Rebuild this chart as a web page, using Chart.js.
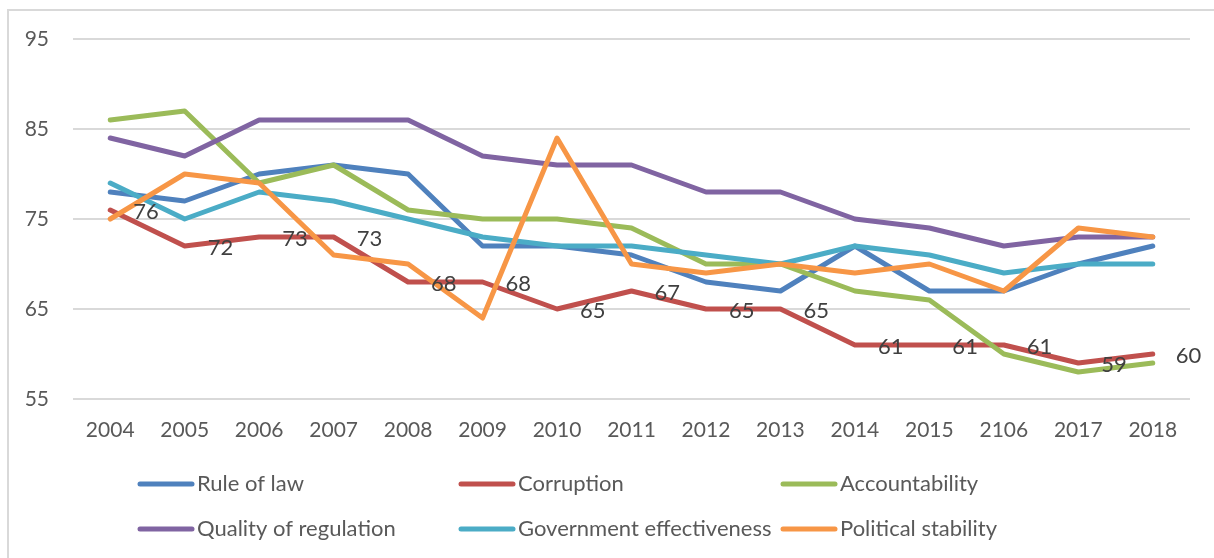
<!DOCTYPE html>
<html>
<head>
<meta charset="utf-8">
<script src="https://cdn.jsdelivr.net/npm/chart.js@4.4.1/dist/chart.umd.min.js"></script>
<style>
  html, body { margin: 0; padding: 0; width: 1214px; height: 558px; overflow: hidden; background: #fff; }
  #frame { position: absolute; left: 7px; top: 9px; width: 1300px; height: 700px; border: 2px solid #d9d9d9; }
  #wrap { position: absolute; left: 0; top: 0; width: 1214px; height: 558px; }
</style>
</head>
<body>
<div id="frame"></div>
<div id="wrap"><canvas id="govChart" width="1214" height="558"></canvas></div>
<script>
// data
const years = ['2004', '2005', '2006', '2007', '2008', '2009', '2010', '2011', '2012', '2013', '2014', '2015', '2106', '2017', '2018'];
const ruleOfLaw = [78, 77, 80, 81, 80, 72, 72, 71, 68, 67, 72, 67, 67, 70, 72];
const corruption = [76, 72, 73, 73, 68, 68, 65, 67, 65, 65, 61, 61, 61, 59, 60];
const accountability = [86, 87, 79, 81, 76, 75, 75, 74, 70, 70, 67, 66, 60, 58, 59];
const qualityOfRegulation = [84, 82, 86, 86, 86, 82, 81, 81, 78, 78, 75, 74, 72, 73, 73];
const govEffectiveness = [79, 75, 78, 77, 75, 73, 72, 72, 71, 70, 72, 71, 69, 70, 70];
const politicalStability = [75, 80, 79, 71, 70, 64, 84, 70, 69, 70, 69, 70, 67, 74, 73];
const yTicks = [55, 65, 75, 85, 95];

const seriesNames = ['Rule of law', 'Corruption', 'Accountability', 'Quality of regulation', 'Government effectiveness', 'Political stability'];
const seriesData = [ruleOfLaw, corruption, accountability, qualityOfRegulation, govEffectiveness, politicalStability];
const seriesColors = ['#4f81bd', '#c0504d', '#9bbb59', '#8064a2', '#4bacc6', '#f79646'];

const FONT = 'Lato, "Open Sans", sans-serif';

// labels only on the Corruption line, placed right of each point
const corruptionLabels = {
    id: 'corruptionLabels',
    afterDatasetsDraw(chart) {
        const meta = chart.getDatasetMeta(1);
        const ctx = chart.ctx;
        ctx.save();
        ctx.font = '22px ' + FONT;
        ctx.fillStyle = '#404040';
        ctx.textAlign = 'left';
        ctx.textBaseline = 'middle';
        meta.data.forEach((pt, i) => {
            ctx.fillText(String(corruption[i]), pt.x + 23, pt.y + 2);
        });
        ctx.restore();
    }
};

// legend in three fixed columns, like the office chart
const gridLegend = {
    id: 'gridLegend',
    afterDraw(chart) {
        const ctx = chart.ctx;
        const colX = [138, 459, 781];
        const rowY = [484, 529];
        ctx.save();
        ctx.font = '22px ' + FONT;
        ctx.textAlign = 'left';
        ctx.textBaseline = 'middle';
        seriesNames.forEach((name, i) => {
            const x = colX[i % 3];
            const y = rowY[Math.floor(i / 3)];
            ctx.strokeStyle = seriesColors[i];
            ctx.lineWidth = 5;
            ctx.lineCap = 'round';
            ctx.beginPath();
            ctx.moveTo(x + 2, y);
            ctx.lineTo(x + 54, y);
            ctx.stroke();
            ctx.fillStyle = '#595959';
            ctx.fillText(name, x + 59, y);
        });
        ctx.restore();
    }
};

const ctx = document.getElementById('govChart').getContext('2d');
new Chart(ctx, {
    type: 'line',
    data: {
        labels: years,
        datasets: seriesNames.map((name, i) => ({
            label: name,
            data: seriesData[i],
            borderColor: seriesColors[i],
            backgroundColor: seriesColors[i],
            borderWidth: 5,
            pointRadius: 0,
            tension: 0,
            borderJoinStyle: 'round',
            borderCapStyle: 'round',
            order: seriesNames.length - i // later series on top
        }))
    },
    options: {
        responsive: false,
        animation: false,
        layout: {
            padding: { left: 0, top: 39, right: 24, bottom: 100 }
        },
        plugins: {
            legend: { display: false },
            tooltip: { enabled: false }
        },
        scales: {
            x: {
                offset: true,
                grid: { display: false, drawTicks: false },
                border: { display: false },
                ticks: {
                    color: '#595959',
                    font: { family: FONT, size: 21 },
                    padding: 19,
                    maxRotation: 0,
                    autoSkip: false
                },
                afterFit: function(scale) { scale.height = 59; }
            },
            y: {
                min: 55,
                max: 95,
                afterBuildTicks: function(scale) {
                    scale.ticks = yTicks.map(v => ({ value: v }));
                },
                grid: { color: '#d9d9d9', lineWidth: 2, drawTicks: false },
                border: { display: false },
                ticks: {
                    color: '#595959',
                    font: { family: FONT, size: 21 },
                    padding: 24
                },
                afterFit: function(scale) { scale.width = 73; }
            }
        }
    },
    plugins: [corruptionLabels, gridLegend]
});
</script>
</body>
</html>
